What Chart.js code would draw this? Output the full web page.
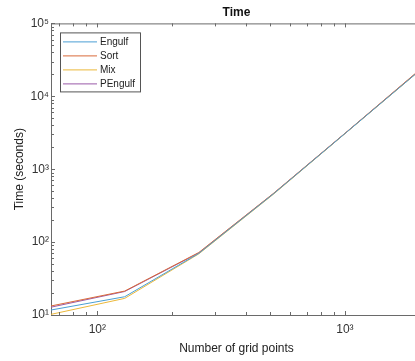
<!DOCTYPE html>
<html>
<head>
<meta charset="utf-8">
<script src="https://cdn.jsdelivr.net/npm/chart.js@4.4.0/dist/chart.umd.min.js"></script>
<style>
  html, body { margin: 0; padding: 0; background: #fff; overflow: hidden; }
  #wrap { width: 440px; height: 361px; }
</style>
</head>
<body>
<div id="wrap"><canvas id="timeChart" width="440" height="361"></canvas></div>
<script>
// grid sizes and run times (seconds)
let gridPoints = [65, 129, 257, 513, 1025, 2049];
let engulfTimes = [11.7, 17.8, 70, 455, 3300, 24000];
let sortTimes = [13.3, 21.3, 72, 462, 3330, 24600];
let mixTimes = [10.2, 16.9, 69, 450, 3290, 24000];
let pengulfTimes = [12.8, 21.0, 71, 458, 3310, 24300];

let seriesNames = ["Engulf", "Sort", "Mix", "PEngulf"];
let seriesColors = ['#4a9fd4', '#d96a3a', '#ebb83a', '#9a5aa8'];

let axisColor = '#6a6a6a';
let fontFamily = "'Liberation Sans', Arial, sans-serif";

let supDigits = {'0':'⁰','1':'¹','2':'²','3':'³','4':'⁴','5':'⁵','6':'⁶','7':'⁷','8':'⁸','9':'⁹'};

function powerLabel(v) {
  let p = Math.log10(v);
  if (Math.abs(p - Math.round(p)) > 1e-9) return '';
  return '10' + String(Math.round(p)).split('').map(d => supDigits[d]).join('');
}

function logTicks(min, max) {
  let ticks = [];
  for (let e = Math.floor(Math.log10(min)); e <= Math.ceil(Math.log10(max)); e++) {
    for (let m = 1; m < 10; m++) {
      let v = m * Math.pow(10, e);
      if (v >= min - 1e-9 && v <= max + 1e-9) ticks.push({value: v});
    }
  }
  return ticks;
}

function toPoints(values) {
  return values.map((v, i) => ({x: gridPoints[i], y: v}));
}

// MATLAB-like box, inward ticks and a framed legend inside the axes
let matlabAxes = {
  id: 'matlabAxes',
  afterDraw(chart) {
    let ctx = chart.ctx;
    let area = chart.chartArea;
    let xs = chart.scales.x;
    let ys = chart.scales.y;
    ctx.save();
    ctx.strokeStyle = axisColor;
    ctx.lineWidth = 1;
    ctx.beginPath();
    ctx.moveTo(area.left, area.top + 0.5);
    ctx.lineTo(area.right, area.top + 0.5);
    ctx.stroke();

    ctx.beginPath();
    xs.ticks.forEach(t => {
      let px = Math.round(xs.getPixelForValue(t.value)) + 0.5;
      let len = powerLabel(t.value) ? 4 : 3;
      ctx.moveTo(px, area.bottom);
      ctx.lineTo(px, area.bottom - len);
      ctx.moveTo(px, area.top);
      ctx.lineTo(px, area.top + len);
    });
    ys.ticks.forEach(t => {
      let py = Math.round(ys.getPixelForValue(t.value)) + 0.5;
      let len = powerLabel(t.value) ? 4 : 3;
      ctx.moveTo(area.left, py);
      ctx.lineTo(area.left + len, py);
    });
    ctx.stroke();

    // legend box
    let bx = area.left + 9, by = area.top + 9, bw = 80, bh = 59;
    ctx.fillStyle = '#fff';
    ctx.fillRect(bx, by, bw, bh);
    ctx.strokeStyle = '#555';
    ctx.strokeRect(bx + 0.5, by + 0.5, bw, bh);
    ctx.font = '10px ' + fontFamily;
    ctx.textBaseline = 'middle';
    chart.data.datasets.forEach((ds, i) => {
      let ry = by + 9.5 + i * 14;
      ctx.strokeStyle = ds.borderColor;
      ctx.beginPath();
      ctx.moveTo(bx + 3, ry);
      ctx.lineTo(bx + 37, ry);
      ctx.stroke();
      ctx.fillStyle = '#222';
      ctx.fillText(ds.label, bx + 40, ry);
    });
    ctx.restore();
  }
};

let datasets = [engulfTimes, sortTimes, mixTimes, pengulfTimes].map((vals, i) => ({
  label: seriesNames[i],
  data: toPoints(vals),
  borderColor: seriesColors[i],
  backgroundColor: seriesColors[i],
  borderWidth: 1,
  pointRadius: 0,
  tension: 0
}));

new Chart(document.getElementById('timeChart').getContext('2d'), {
  type: 'line',
  data: { datasets: datasets },
  options: {
    responsive: false,
    animation: false,
    layout: { padding: { left: 0, right: 18, top: 0, bottom: 0 } },
    plugins: {
      legend: { display: false },
      tooltip: { enabled: false },
      title: {
        display: true,
        text: 'Time',
        fullSize: false,
        color: '#111',
        font: { family: fontFamily, size: 12, weight: 'bold' },
        padding: { top: 5, bottom: 4 }
      }
    },
    scales: {
      x: {
        type: 'logarithmic',
        min: 65,
        max: 2049,
        afterBuildTicks: s => { s.ticks = logTicks(65, 2049); },
        afterFit: s => { s.height = 46; },
        grid: { display: false, drawTicks: false },
        border: { display: true, color: axisColor, width: 1 },
        ticks: {
          autoSkip: false,
          maxRotation: 0,
          padding: 7,
          color: '#333',
          font: { family: fontFamily, size: 12 },
          callback: v => powerLabel(v)
        },
        title: {
          display: true,
          text: 'Number of grid points',
          color: '#222',
          font: { family: fontFamily, size: 12 },
          padding: { top: 2, bottom: 5 }
        }
      },
      y: {
        type: 'logarithmic',
        min: 10,
        max: 100000,
        afterBuildTicks: s => { s.ticks = logTicks(10, 100000); },
        afterFit: s => { s.width = 51; },
        grid: { display: false, drawTicks: false },
        border: { display: true, color: axisColor, width: 1 },
        ticks: {
          autoSkip: false,
          padding: 2,
          color: '#333',
          font: { family: fontFamily, size: 12 },
          callback: v => powerLabel(v)
        },
        title: {
          display: true,
          text: 'Time (seconds)',
          color: '#222',
          font: { family: fontFamily, size: 12 },
          padding: { top: 12, bottom: 2 }
        }
      }
    }
  },
  plugins: [matlabAxes]
});
</script>
</body>
</html>
